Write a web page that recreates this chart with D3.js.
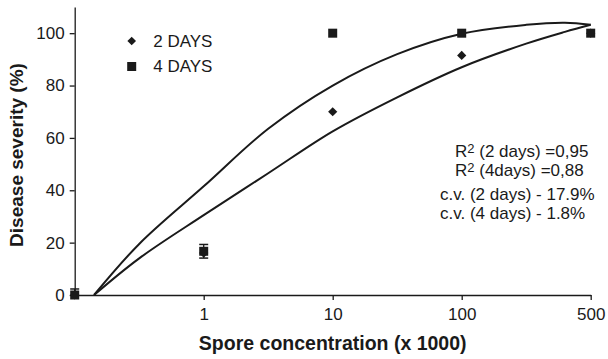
<!DOCTYPE html>
<html>
<head>
<meta charset="utf-8">
<script src="https://cdn.jsdelivr.net/npm/d3@7"></script>
<style>
  html, body { margin: 0; padding: 0; background: #fff; }
  #chart { width: 608px; height: 359px; }
  text { font-family: "Liberation Sans", Arial, sans-serif; fill: #1a1a1a; }
</style>
</head>
<body>
<div id="chart"></div>
<script>
// spore concentration categories (x 1000), evenly spaced on the axis
const categories = ["0", "1", "10", "100", "500"];
const tickLabels = ["", "1", "10", "100", "500"];
const yTicks = [0, 20, 40, 60, 80, 100];

// observed disease severity (%)
const days2 = [0, 16, 70, 91.5, 100];
const days4 = [0, 16.7, 100, 100, 100];
const err4 = [2.3, 2.6, 0, 0, 0];

// fitted trend curves, position along the category axis and severity
const fitPos = [0.15, 0.5, 1, 1.5, 2, 2.5, 3, 3.5, 3.8, 4];
const fit4Days = [0, 19.5, 41.5, 63.5, 80, 92, 99.8, 103.2, 104, 103.2];
const fit2Days = [0, 14, 30.5, 46.5, 62.5, 75.5, 87, 96, 100.5, 103.2];

const notes = [
  {lead: "R", sup: "2", rest: " (2 days) =0,95"},
  {lead: "R", sup: "2", rest: " (4days) =0,88"},
  {lead: "c.v. (2 days) - 17.9%"},
  {lead: "c.v. (4 days) - 1.8%"}
];

const W = 608, H = 359;
const ink = "#1a1a1a";

const svg = d3.select("#chart").append("svg")
    .attr("width", W)
    .attr("height", H);

const x = d3.scaleLinear()
    .domain([0, categories.length - 1])
    .range([74.7, 590.7]);

const y = d3.scaleLinear()
    .domain([0, 110])
    .range([295, 7]);

// axes
const yAxis = svg.append("g")
    .attr("transform", `translate(${x(0)},0)`)
    .call(d3.axisLeft(y).tickValues(yTicks).tickSize(5).tickSizeOuter(0).tickPadding(5));

const xAxis = svg.append("g")
    .attr("transform", `translate(0,${y(0)})`)
    .call(d3.axisBottom(x)
        .tickValues(d3.range(1, categories.length))
        .tickFormat(i => tickLabels[i])
        .tickSize(5).tickSizeOuter(0).tickPadding(8));

[xAxis, yAxis].forEach(ax => {
    ax.select(".domain").attr("stroke", ink).attr("stroke-width", 1.3);
    ax.selectAll(".tick line").attr("stroke", ink).attr("stroke-width", 1.3);
    ax.selectAll(".tick text")
        .style("font-family", '"Liberation Sans", Arial, sans-serif')
        .style("font-size", "17px")
        .attr("fill", ink);
});

// axis titles
svg.append("text")
    .attr("x", x(2))
    .attr("y", 350)
    .attr("text-anchor", "middle")
    .style("font-size", "19.5px")
    .style("font-weight", "bold")
    .text("Spore concentration (x 1000)");

svg.append("text")
    .attr("transform", "translate(23,155) rotate(-90)")
    .attr("text-anchor", "middle")
    .style("font-size", "19px")
    .style("font-weight", "bold")
    .text("Disease severity (%)");

// trend curves
const line = d3.line()
    .x(d => x(d[0]))
    .y(d => y(d[1]))
    .curve(d3.curveCatmullRom.alpha(0.5));

[fit4Days, fit2Days].forEach(fit => {
    svg.append("path")
        .datum(fitPos.map((p, i) => [p, fit[i]]))
        .attr("d", line)
        .attr("fill", "none")
        .attr("stroke", ink)
        .attr("stroke-width", 2);
});

// markers
const diamond = s => `M0,${-s}L${s},0L0,${s}L${-s},0Z`;

svg.append("g").selectAll("path")
    .data(days2)
    .join("path")
    .attr("transform", (d, i) => `translate(${x(i)},${y(d)})`)
    .attr("d", diamond(4.6))
    .attr("fill", ink);

const errG = svg.append("g");
days4.forEach((d, i) => {
    if (!err4[i]) return;
    const lo = Math.max(0, d - err4[i]), hi = d + err4[i];
    errG.append("line")
        .attr("x1", x(i)).attr("x2", x(i))
        .attr("y1", y(lo)).attr("y2", y(hi))
        .attr("stroke", ink).attr("stroke-width", 1.3);
    errG.append("line")
        .attr("x1", x(i) - 4.5).attr("x2", x(i) + 4.5)
        .attr("y1", y(hi)).attr("y2", y(hi))
        .attr("stroke", ink).attr("stroke-width", 1.5);
    if (d - err4[i] >= 0) {
        errG.append("line")
            .attr("x1", x(i) - 4.5).attr("x2", x(i) + 4.5)
            .attr("y1", y(lo)).attr("y2", y(lo))
            .attr("stroke", ink).attr("stroke-width", 1.5);
    }
});

svg.append("g").selectAll("rect")
    .data(days4)
    .join("rect")
    .attr("x", (d, i) => x(i) - 4.5)
    .attr("y", d => y(d) - 4.5)
    .attr("width", 9)
    .attr("height", 9)
    .attr("fill", ink);

// legend
const legend = svg.append("g").attr("transform", "translate(131.7,41)");
legend.append("path").attr("d", diamond(4.3)).attr("fill", ink);
legend.append("rect").attr("x", -4.5).attr("y", 21).attr("width", 9).attr("height", 9).attr("fill", ink);
legend.append("text").attr("x", 21.5).attr("y", 6).style("font-size", "17px").text("2 DAYS");
legend.append("text").attr("x", 21.5).attr("y", 31).style("font-size", "17px").text("4 DAYS");

// fit statistics
const noteX = [455, 455, 440, 440];
const noteY = [157, 176, 200, 219];
notes.forEach((n, i) => {
    const t = svg.append("text")
        .attr("x", noteX[i])
        .attr("y", noteY[i])
        .style("font-size", "17px");
    t.append("tspan").text(n.lead);
    if (n.sup) {
        t.append("tspan").attr("dy", -4).style("font-size", "13px").text(n.sup);
        t.append("tspan").attr("dy", 4).text(n.rest);
    }
});
</script>
</body>
</html>
